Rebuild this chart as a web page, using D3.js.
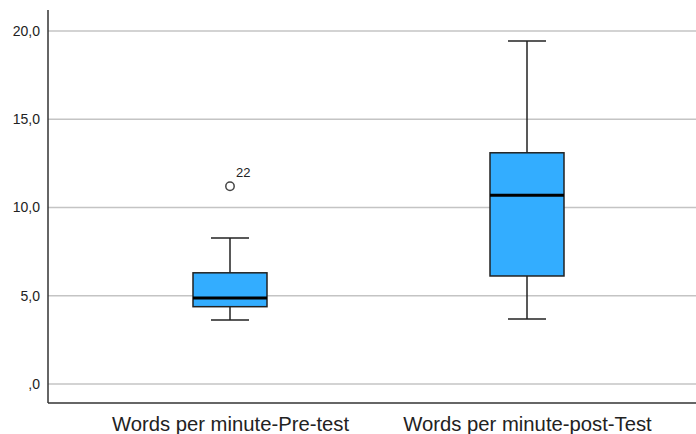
<!DOCTYPE html>
<html lang="en">
<head>
<meta charset="utf-8">
<title>Words per minute boxplot</title>
<script src="https://d3js.org/d3.v7.min.js"></script>
<style>
    body { margin: 0; background: #fff; }
    text { font-family: "Liberation Sans", Arial, sans-serif; fill: #222; }
</style>
</head>
<body>
<svg id="chart" width="696" height="434"></svg>
<script>
    // data
    const categories = ["Words per minute-Pre-test", "Words per minute-post-Test"];
    const lowWhisker = [3.63, 3.68];
    const q1 = [4.38, 6.12];
    const median = [4.87, 10.7];
    const q3 = [6.3, 13.1];
    const highWhisker = [8.27, 19.43];
    const outliers = [{cat: 0, value: 11.2, label: "22"}];
    const yTicks = [0, 5, 10, 15, 20];

    const svg = d3.select('#chart');
    const plotLeft = 48, plotRight = 696, plotTop = 10, plotBottom = 403;

    const y = d3.scaleLinear().domain([0, 20]).range([384, 31]);
    const x = d3.scalePoint().domain(categories).range([230, 527]);
    const fmt = v => d3.format('.1f')(v).replace('.', ',').replace(/^0,/, ',');

    // grid lines
    svg.append('g')
        .selectAll('line')
        .data(yTicks)
        .join('line')
        .attr('x1', plotLeft).attr('x2', plotRight)
        .attr('y1', d => y(d)).attr('y2', d => y(d))
        .attr('stroke', '#c4c4c4').attr('stroke-width', 1.5);

    // y axis
    const yAxis = svg.append('g')
        .attr('transform', 'translate(' + plotLeft + ',0)')
        .call(d3.axisLeft(y).tickValues(yTicks).tickFormat(fmt).tickSize(0).tickPadding(8));
    yAxis.select('.domain').remove();
    yAxis.selectAll('text').attr('font-size', 14).attr('fill', '#222')
        .attr('font-family', '"Liberation Sans", Arial, sans-serif');

    svg.append('line').attr('x1', plotLeft).attr('x2', plotLeft).attr('y1', plotTop).attr('y2', plotBottom)
        .attr('stroke', '#333').attr('stroke-width', 1.5);
    svg.append('line').attr('x1', plotLeft).attr('x2', plotRight).attr('y1', plotBottom).attr('y2', plotBottom)
        .attr('stroke', '#333').attr('stroke-width', 1.5);

    // x axis labels (slightly condensed like the original)
    const xAxis = svg.append('g')
        .attr('transform', 'translate(0,' + plotBottom + ')')
        .call(d3.axisBottom(x).tickSize(0).tickPadding(13));
    xAxis.select('.domain').remove();
    xAxis.selectAll('text').attr('font-size', 21).attr('fill', '#222')
        .attr('font-family', '"Liberation Sans", Arial, sans-serif')
        .attr('transform', 'scale(0.965,1)');

    const boxW = 74, capW = 38;
    const boxes = svg.append('g')
        .selectAll('g')
        .data(categories)
        .join('g')
        .attr('transform', d => 'translate(' + x(d) + ',0)');

    boxes.append('line')
        .attr('x1', 0).attr('x2', 0)
        .attr('y1', (d, i) => y(lowWhisker[i])).attr('y2', (d, i) => y(q1[i]))
        .attr('stroke', '#222').attr('stroke-width', 1.5);
    boxes.append('line')
        .attr('x1', 0).attr('x2', 0)
        .attr('y1', (d, i) => y(q3[i])).attr('y2', (d, i) => y(highWhisker[i]))
        .attr('stroke', '#222').attr('stroke-width', 1.5);
    boxes.append('line')
        .attr('x1', -capW / 2).attr('x2', capW / 2)
        .attr('y1', (d, i) => y(lowWhisker[i])).attr('y2', (d, i) => y(lowWhisker[i]))
        .attr('stroke', '#222').attr('stroke-width', 1.5);
    boxes.append('line')
        .attr('x1', -capW / 2).attr('x2', capW / 2)
        .attr('y1', (d, i) => y(highWhisker[i])).attr('y2', (d, i) => y(highWhisker[i]))
        .attr('stroke', '#222').attr('stroke-width', 1.5);
    boxes.append('rect')
        .attr('x', -boxW / 2).attr('width', boxW)
        .attr('y', (d, i) => y(q3[i]))
        .attr('height', (d, i) => y(q1[i]) - y(q3[i]))
        .attr('fill', '#33adff').attr('stroke', '#222').attr('stroke-width', 1.5);
    boxes.append('line')
        .attr('x1', -boxW / 2).attr('x2', boxW / 2)
        .attr('y1', (d, i) => y(median[i])).attr('y2', (d, i) => y(median[i]))
        .attr('stroke', '#000').attr('stroke-width', 3);

    // outliers
    const out = svg.append('g')
        .selectAll('g')
        .data(outliers)
        .join('g')
        .attr('transform', d => 'translate(' + x(categories[d.cat]) + ',' + y(d.value) + ')');
    out.append('circle').attr('r', 4.2)
        .attr('fill', '#fff').attr('stroke', '#444').attr('stroke-width', 1.5);
    out.append('text').attr('x', 6).attr('y', -9)
        .attr('font-size', 13).text(d => d.label);
</script>
</body>
</html>
